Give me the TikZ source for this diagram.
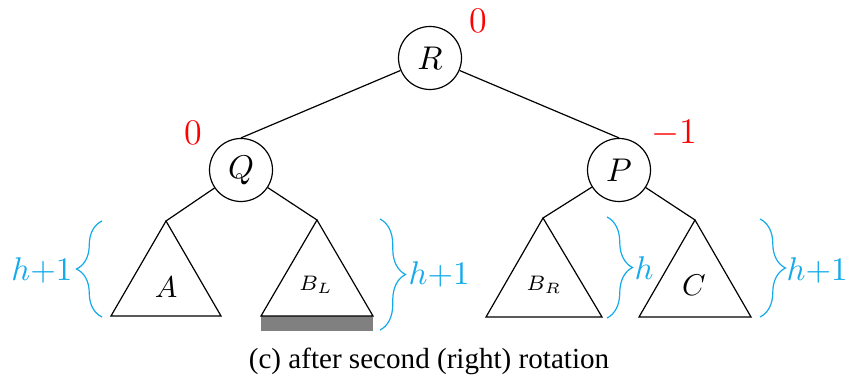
\documentclass[tikz,border=0pt]{standalone}
\usepackage{fontspec}
\setmainfont{Liberation Serif}
\usetikzlibrary{decorations.pathreplacing}
\definecolor{brcol}{RGB}{20,170,235}
\definecolor{barcol}{RGB}{128,128,128}
\begin{document}
\begin{tikzpicture}[x=0.33333pt,y=-0.33333pt,
  vnode/.style={draw,circle,minimum size=21pt,inner sep=0pt,font=\fontsize{11}{13}\selectfont},
  bal/.style={text=red,font=\fontsize{11.5}{13}\selectfont,inner sep=0pt},
  subtree/.style={draw,line join=miter},
  tlabel/.style={inner sep=0pt,font=\fontsize{10}{12}\selectfont},
  smlabel/.style={inner sep=0pt,font=\scriptsize},
  hbrace/.style={draw=brcol,decorate,decoration={brace,amplitude=8.5pt,aspect=0.5}},
  hlabel/.style={text=brcol,inner sep=0pt,font=\fontsize{10.5}{12}\selectfont},
  captext/.style={inner sep=0pt,font=\fontsize{9.7}{12}\selectfont}]
\useasboundingbox (0,0) rectangle (852,381);

% internal nodes
\node[vnode] (R) at (430,58) {$R$};
\node[vnode] (Q) at (241,170) {$Q$};
\node[vnode] (P) at (619,170) {$P$};

% balance factors
\node[bal] (bR) at (478,21) {$0$};
\node[bal] (bQ) at (193,133) {$0$};
\node[bal] (bP) at (674,133) {$-1$};

% subtree apexes and corners
\coordinate (a) at (166,221);
\coordinate (aL) at (111,316);
\coordinate (aR) at (221,316);
\coordinate (bl) at (317,220);
\coordinate (blL) at (261,316);
\coordinate (blR) at (373,316);
\coordinate (br) at (543,218);
\coordinate (brL) at (486,317);
\coordinate (brR) at (602,317);
\coordinate (c) at (695,220);
\coordinate (cL) at (639,317);
\coordinate (cR) at (751,317);

% edges
\draw (R) -- (Q.north);
\draw (R) -- (P.north);
\draw (Q) -- (a);
\draw (Q) -- (bl);
\draw (P) -- (br);
\draw (P) -- (c);

% subtrees
\fill[barcol] (261,316) rectangle (373,331);
\draw[subtree] (a) -- (aL) -- (aR) -- cycle;
\draw[subtree] (bl) -- (blL) -- (blR) -- cycle;
\draw[subtree] (br) -- (brL) -- (brR) -- cycle;
\draw[subtree] (c) -- (cL) -- (cR) -- cycle;

\node[tlabel] (tA) at (166,287) {$A$};
\node[smlabel] (tBL) at (316,285) {$B_L$};
\node[smlabel] (tBR) at (544,285) {$B_R$};
\node[tlabel] (tC) at (694,285) {$C$};

% height braces
\coordinate (hA1) at (102,317);
\coordinate (hA2) at (102,221);
\draw[hbrace] (hA1) -- (hA2);
\node[hlabel,anchor=east] (lA) at (73,270) {$h{+}1$};

\coordinate (hB1) at (380,219);
\coordinate (hB2) at (380,330);
\draw[hbrace] (hB1) -- (hB2);
\node[hlabel,anchor=west] (lB) at (408,274) {$h{+}1$};

\coordinate (hR1) at (607,217);
\coordinate (hR2) at (607,318);
\draw[hbrace] (hR1) -- (hR2);
\node[hlabel,anchor=west] (lR) at (634,268) {$h$};

\coordinate (hC1) at (760,219);
\coordinate (hC2) at (760,317);
\draw[hbrace] (hC1) -- (hC2);
\node[hlabel,anchor=west] (lC) at (786,270) {$h{+}1$};

% caption
\node[captext] (caption) at (429,361) {(c) after second (right) rotation};
\end{tikzpicture}
\end{document}
